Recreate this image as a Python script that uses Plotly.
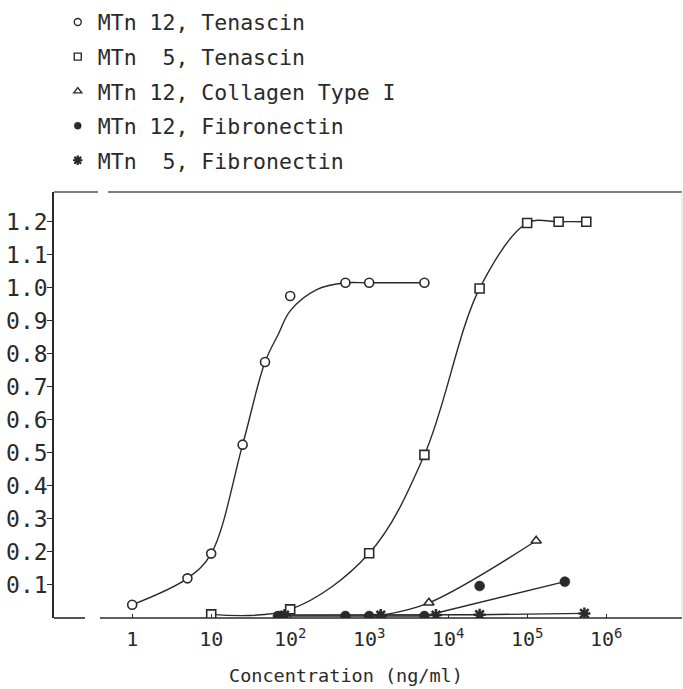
import plotly.graph_objects as go

# ---- data ----
# MTn 12, Tenascin (open circles)
c_x = [1, 5, 10, 25, 48, 100, 500, 1000, 5000]
c_y = [0.04, 0.12, 0.195, 0.525, 0.775, 0.975, 1.015, 1.015, 1.015]
# fitted curve drawn through the circles
c_fit_x = [1, 5, 10, 25, 48, 71, 100, 220, 500, 1000, 5000]
c_fit_y = [0.04, 0.12, 0.195, 0.525, 0.775, 0.86, 0.93, 0.995, 1.015, 1.015, 1.015]

# MTn 5, Tenascin (open squares)
s_x = [10, 100, 1000, 5000, 25000, 100000, 250000, 560000]
s_y = [0.011, 0.026, 0.196, 0.494, 0.998, 1.196, 1.2, 1.2]

# MTn 12, Collagen Type I (open triangles)
t_x = [1400, 5700, 130000]
t_y = [0.008, 0.046, 0.234]

# MTn 12, Fibronectin (filled circles)
f_x = [70, 500, 1000, 5000, 25000, 300000]
f_y = [0.006, 0.006, 0.006, 0.006, 0.097, 0.11]
f_fit_x = [70, 500, 1000, 5000, 300000]
f_fit_y = [0.006, 0.006, 0.006, 0.006, 0.11]

# MTn 5, Fibronectin (asterisks)
a_x = [85, 1400, 7000, 25000, 530000]
a_y = [0.009, 0.009, 0.009, 0.01, 0.014]

legend_names = ["MTn 12, Tenascin", "MTn\u00a0\u00a05, Tenascin", "MTn 12, Collagen Type I",
                "MTn 12, Fibronectin", "MTn\u00a0\u00a05, Fibronectin"]

x_tickvals = [1, 10, 100, 1000, 10000, 100000, 1000000]
x_ticktext = ["1", "10", "10<sup>2</sup>", "10<sup>3</sup>", "10<sup>4</sup>", "10<sup>5</sup>", "10<sup>6</sup>"]
y_tickvals = [0.1, 0.2, 0.3, 0.4, 0.5, 0.6, 0.7, 0.8, 0.9, 1.0, 1.1, 1.2]
y_ticktext = ["0.1", "0.2", "0.3", "0.4", "0.5", "0.6", "0.7", "0.8", "0.9", "1.0", "1.1", "1.2"]
x_title = "Concentration (ng/ml)"

INK = "#2a2a2a"
FONT = "DejaVu Sans Mono"

fig = go.Figure()

def line(x, y, shape="spline"):
    fig.add_trace(go.Scatter(x=x, y=y, mode="lines", showlegend=False, hoverinfo="skip",
                             line=dict(color=INK, width=1.4, shape=shape, smoothing=1.0)))

def marks(x, y, symbol, fill, size=9, lw=1.6):
    fig.add_trace(go.Scatter(x=x, y=y, mode="markers", showlegend=False,
                             marker=dict(symbol=symbol, size=size, color=fill,
                                         line=dict(color=INK, width=lw))))

line(c_fit_x, c_fit_y)
line(s_x, s_y)
line(t_x, t_y)
line(f_fit_x, f_fit_y, shape="linear")
line(a_x, a_y, shape="linear")

marks(c_x, c_y, "circle", "white")
marks(s_x, s_y, "square", "white")
marks(t_x, t_y, "triangle-up", "white")
marks(f_x, f_y, "circle", INK, size=10, lw=0.5)
marks(a_x, a_y, "asterisk", INK, size=10, lw=2.5)

# legend-only entries (marker only, as in the original key)
leg_styles = [("circle", "white", 7, 1.4), ("square", "white", 7, 1.4),
              ("triangle-up", "white", 7, 1.4), ("circle", INK, 7, 0.5),
              ("asterisk", INK, 8, 2.2)]
for i, (name, (sym, fill, sz, lw)) in enumerate(zip(legend_names, leg_styles)):
    fig.add_trace(go.Scatter(x=[None], y=[None], mode="markers", name=name,
                             legendgroup=f"g{i}",
                             marker=dict(symbol=sym, size=sz, color=fill,
                                         line=dict(color=INK, width=lw))))

# frame lines (with the small breaks seen in the original)
W = 628.0
shapes = [
    dict(type="line", xref="paper", yref="paper", x0=0, x1=(85 - 54) / W, y0=0, y1=0,
         line=dict(color=INK, width=1.6)),
    dict(type="line", xref="paper", yref="paper", x0=(100 - 54) / W, x1=1, y0=0, y1=0,
         line=dict(color=INK, width=1.6)),
    dict(type="line", xref="paper", yref="paper", x0=0, x1=(98 - 54) / W, y0=1, y1=1,
         line=dict(color="#555", width=1.6)),
    dict(type="line", xref="paper", yref="paper", x0=(108 - 54) / W, x1=1, y0=1, y1=1,
         line=dict(color="#555", width=1.6)),
    dict(type="line", xref="paper", yref="paper", x0=1, x1=1, y0=0, y1=1,
         line=dict(color="#d8d8d8", width=1)),
]

fig.update_layout(
    width=683, height=689, autosize=False,
    margin=dict(l=54, r=1, t=192, b=71, pad=0),
    paper_bgcolor="white", plot_bgcolor="white",
    font=dict(family=FONT, size=21, color=INK),
    shapes=shapes,
    showlegend=True,
    legend=dict(x=0.006, y=1.447, xanchor="left", yanchor="top",
                traceorder="grouped", tracegroupgap=3.6,
                font=dict(family=FONT, size=21.5, color=INK),
                bgcolor="rgba(0,0,0,0)", itemwidth=30),
    annotations=[dict(text=x_title, xref="paper", yref="paper",
                      x=(346 - 54) / W, y=-(675 - 618) / 426.0,
                      xanchor="center", yanchor="middle", showarrow=False,
                      font=dict(family=FONT, size=18.5, color=INK))],
    xaxis=dict(type="log", range=[-0.99, 6.96], tickvals=x_tickvals, ticktext=x_ticktext,
               ticks="inside", ticklen=4, tickcolor=INK, tickwidth=1,
               showline=False, showgrid=False, zeroline=False,
               ticklabelstandoff=7,
               tickfont=dict(family=FONT, size=20, color=INK)),
    yaxis=dict(range=[0, 1.29], tickvals=y_tickvals, ticktext=y_ticktext,
               ticks="outside", ticklen=5, tickcolor=INK, tickwidth=1.2,
               showline=True, linecolor=INK, linewidth=1.6,
               showgrid=False, zeroline=False,
               ticklabelstandoff=-5,
               tickfont=dict(family=FONT, size=23, color=INK)),
)

fig.write_html("out.html", config={"displayModeBar": False},
               post_script="document.body.style.margin='0';document.body.style.overflow='hidden';")
